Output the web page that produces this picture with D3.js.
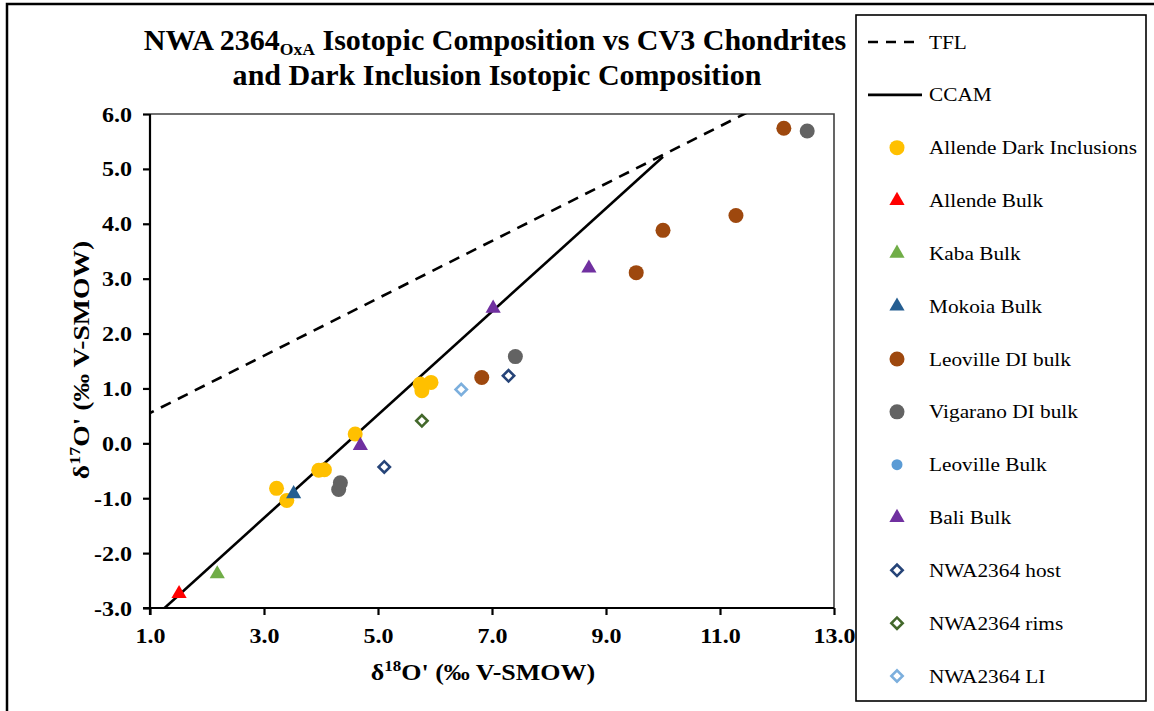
<!DOCTYPE html>
<html>
<head>
<meta charset="utf-8">
<script src="https://cdn.jsdelivr.net/npm/d3@7"></script>
<style>
  html, body { margin: 0; padding: 0; background: #fff; }
  svg { display: block; }
  text { font-family: "Liberation Serif", "Times New Roman", serif; }
</style>
</head>
<body>
<svg id="chart" width="1154" height="711"></svg>
<script>
// Oxygen isotope data: [δ18O', δ17O'] pairs (‰ V-SMOW)
const allendeDarkInclusions = [[3.22, -0.82], [3.40, -1.04], [3.96, -0.49], [4.06, -0.48], [4.60, 0.17], [5.74, 1.08], [5.77, 0.96], [5.93, 1.11]];
const allendeBulk = [[1.51, -2.74]];
const kabaBulk = [[2.18, -2.38]];
const mokoiaBulk = [[3.52, -0.92]];
const leovilleDIBulk = [[6.82, 1.20], [9.53, 3.11], [10.00, 3.88], [11.28, 4.15], [12.12, 5.74]];
const vigaranoDIBulk = [[4.31, -0.84], [4.34, -0.72], [7.41, 1.58], [12.53, 5.69]];
const leovilleBulk = [];
const baliBulk = [[4.69, -0.04], [7.02, 2.46], [8.70, 3.19]];
const nwaHost = [[5.11, -0.43], [7.29, 1.23]];
const nwaRims = [[5.77, 0.41]];
const nwaLI = [[6.46, 0.98]];

// Reference lines (end points)
const tflLine = [[0.0, 0.03], [12.0, 6.30]];
const ccamLine = [[1.0, -3.24], [10.0, 5.22]];

const xTicks = [1, 3, 5, 7, 9, 11, 13];
const yTicks = [-3, -2, -1, 0, 1, 2, 3, 4, 5, 6];

const series = [
  { name: "Allende Dark Inclusions", data: allendeDarkInclusions, shape: "circle", color: "#FFC000" },
  { name: "Allende Bulk", data: allendeBulk, shape: "triangle", color: "#FF0000" },
  { name: "Kaba Bulk", data: kabaBulk, shape: "triangle", color: "#70AD47" },
  { name: "Mokoia Bulk", data: mokoiaBulk, shape: "triangle", color: "#255E91" },
  { name: "Leoville DI bulk", data: leovilleDIBulk, shape: "circle", color: "#9E480E" },
  { name: "Vigarano DI bulk", data: vigaranoDIBulk, shape: "circle", color: "#636363" },
  { name: "Leoville Bulk", data: leovilleBulk, shape: "smallcircle", color: "#5B9BD5" },
  { name: "Bali Bulk", data: baliBulk, shape: "triangle", color: "#7030A0" },
  { name: "NWA2364 host", data: nwaHost, shape: "diamond", color: "#264478" },
  { name: "NWA2364 rims", data: nwaRims, shape: "diamond", color: "#43682B" },
  { name: "NWA2364 LI", data: nwaLI, shape: "diamond", color: "#7CAFDD" }
];

const svg = d3.select("#chart");
const plot = { left: 150, right: 834, top: 114, bottom: 608 };

const x = d3.scaleLinear().domain([1, 13]).range([plot.left, plot.right]);
const y = d3.scaleLinear().domain([-3, 6]).range([plot.bottom, plot.top]);

// One decimal, plain hyphen for negatives
const fmt = d => d3.format(".1f")(d).replace("\u2212", "-");

// Outer chart frame
svg.append("rect")
  .attr("x", 7).attr("y", 4).attr("width", 1160).attr("height", 720)
  .attr("fill", "none").attr("stroke", "#000").attr("stroke-width", 2.5);

// Horizontal stretch helper for text (applies to each element in the selection)
function stretch(sel, factor) {
  sel.each(function () {
    const w = this.getComputedTextLength();
    d3.select(this).attr("textLength", w * factor).attr("lengthAdjust", "spacingAndGlyphs");
  });
}

// Title
const title = svg.append("g").attr("font-weight", "bold").attr("fill", "#000");
const t1 = title.append("text").attr("x", 495).attr("y", 50).attr("text-anchor", "middle").attr("font-size", 29);
t1.append("tspan").text("NWA 2364");
t1.append("tspan").attr("font-size", 17).attr("dy", 5).text("OxA");
t1.append("tspan").attr("dy", -5).text(" Isotopic Composition vs CV3 Chondrites");
stretch(t1.selectAll("tspan"), 1.035);
const t2 = title.append("text").attr("x", 497).attr("y", 85).attr("text-anchor", "middle").attr("font-size", 29)
  .text("and Dark Inclusion Isotopic Composition");
stretch(t2, 1.035);

// Plot border (top and right)
svg.append("path")
  .attr("d", `M${plot.left},${plot.top}H${plot.right}V${plot.bottom}`)
  .attr("fill", "none").attr("stroke", "#404040").attr("stroke-width", 1.6);

// Axes
const xAxis = svg.append("g").attr("transform", `translate(0,${plot.bottom})`)
  .call(d3.axisBottom(x).tickValues(xTicks).tickSize(7).tickSizeOuter(0).tickFormat(fmt));
const yAxis = svg.append("g").attr("transform", `translate(${plot.left},0)`)
  .call(d3.axisLeft(y).tickValues(yTicks).tickSize(7).tickSizeOuter(0).tickFormat(fmt));

[xAxis, yAxis].forEach(a => {
  a.select(".domain").attr("stroke", "#000").attr("stroke-width", 2.2);
  a.selectAll(".tick line").attr("stroke", "#000").attr("stroke-width", 2.2);
  a.selectAll(".tick text")
    .attr("font-family", "Liberation Serif, Times New Roman, serif")
    .attr("font-weight", "bold").attr("font-size", 20).attr("fill", "#000");
});
xAxis.selectAll(".tick text").attr("dy", null).attr("y", 35);
yAxis.selectAll(".tick text").attr("x", -18).attr("dy", "0.35em");
stretch(xAxis.selectAll(".tick text"), 1.2);
stretch(yAxis.selectAll(".tick text"), 1.2);
// extend left axis line below the bottom axis
yAxis.select(".domain").attr("d", `M0,${plot.top}V${plot.bottom + 7}`);
xAxis.select(".domain").attr("d", `M${plot.left - 7},0H${plot.right}`);

// Axis titles
const xt = svg.append("text").attr("x", 483).attr("y", 680).attr("text-anchor", "middle")
  .attr("font-weight", "bold").attr("font-size", 23);
xt.append("tspan").text("δ");
xt.append("tspan").attr("font-size", 15).attr("dy", -9).text("18");
xt.append("tspan").attr("dy", 9).text("O' (‰ V-SMOW)");
stretch(xt.selectAll("tspan"), 1.13);

const yt = svg.append("text").attr("transform", "translate(89,360) rotate(-90)").attr("text-anchor", "middle")
  .attr("font-weight", "bold").attr("font-size", 23);
yt.append("tspan").text("δ");
yt.append("tspan").attr("font-size", 15).attr("dy", -9).text("17");
yt.append("tspan").attr("dy", 9).text("O' (‰ V-SMOW)");
stretch(yt.selectAll("tspan"), 1.2);

// Clip to plot area
svg.append("clipPath").attr("id", "plotClip")
  .append("rect").attr("x", plot.left).attr("y", plot.top)
  .attr("width", plot.right - plot.left).attr("height", plot.bottom - plot.top);

const line = d3.line().x(d => x(d[0])).y(d => y(d[1]));
const lines = svg.append("g").attr("clip-path", "url(#plotClip)");
lines.append("path").datum(tflLine).attr("d", line)
  .attr("fill", "none").attr("stroke", "#000").attr("stroke-width", 2.6).attr("stroke-dasharray", "11,8");
lines.append("path").datum(ccamLine).attr("d", line)
  .attr("fill", "none").attr("stroke", "#000").attr("stroke-width", 2.6);

// Marker drawing
function drawMarker(g, shape, color) {
  if (shape === "circle") {
    g.append("circle").attr("r", 7.5).attr("fill", color);
  } else if (shape === "smallcircle") {
    g.append("circle").attr("r", 5.5).attr("fill", color);
  } else if (shape === "triangle") {
    g.append("path").attr("d", d3.symbol(d3.symbolTriangle, 100)()).attr("fill", color);
  } else if (shape === "diamond") {
    g.append("path").attr("d", d3.symbol(d3.symbolSquare, 64)()).attr("transform", "rotate(45)")
      .attr("fill", "#fff").attr("stroke", color).attr("stroke-width", 2.6);
  }
}

const pts = svg.append("g");
series.forEach(s => {
  s.data.forEach(d => {
    const g = pts.append("g").attr("transform", `translate(${x(d[0])},${y(d[1])})`);
    drawMarker(g, s.shape, s.color);
  });
});

// Legend
const legend = svg.append("g");
legend.append("rect").attr("x", 856).attr("y", 15).attr("width", 290).attr("height", 686)
  .attr("fill", "#fff").attr("stroke", "#000").attr("stroke-width", 1.6);

const legendItems = [
  { name: "TFL", kind: "dash" },
  { name: "CCAM", kind: "solid" },
  ...series.map(s => ({ name: s.name, kind: "marker", shape: s.shape, color: s.color }))
];
const rowY = d3.scaleLinear().domain([0, legendItems.length - 1]).range([42, 676]);
legendItems.forEach((it, i) => {
  const yy = rowY(i);
  if (it.kind === "dash" || it.kind === "solid") {
    legend.append("line").attr("x1", 868).attr("x2", 922).attr("y1", yy).attr("y2", yy)
      .attr("stroke", "#000").attr("stroke-width", 2.6)
      .attr("stroke-dasharray", it.kind === "dash" ? "10,8" : null);
  } else {
    const g = legend.append("g").attr("transform", `translate(897,${yy})`);
    drawMarker(g, it.shape, it.color);
  }
  const lt = legend.append("text").attr("x", 929).attr("y", yy).attr("dy", "0.35em")
    .attr("font-size", 19).attr("fill", "#000").text(it.name);
  stretch(lt, 1.12);
});
</script>
</body>
</html>
